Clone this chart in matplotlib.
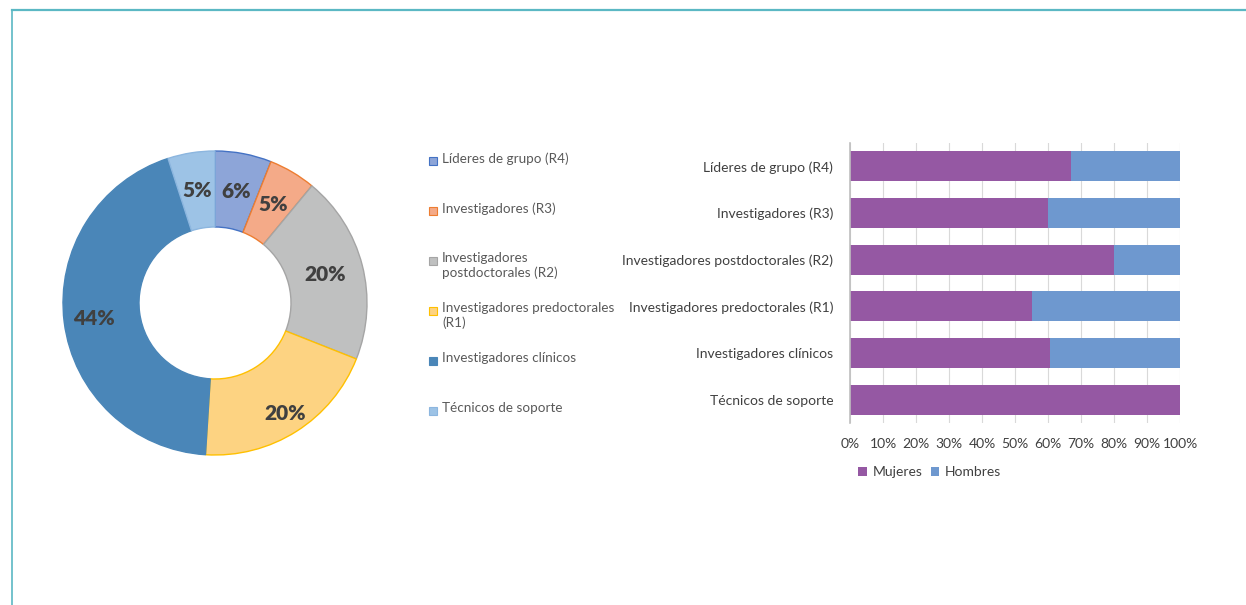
import numpy as np
import matplotlib.pyplot as plt
from matplotlib.patches import Rectangle

plt.rcParams['font.family'] = ['Lato', 'DejaVu Sans']

# datos del anillo
categorias = ['Líderes de grupo (R4)', 'Investigadores (R3)', 'Investigadores postdoctorales (R2)',
              'Investigadores predoctorales (R1)', 'Investigadores clínicos', 'Técnicos de soporte']
leyenda_anillo = ['Líderes de grupo (R4)', 'Investigadores (R3)', 'Investigadores\npostdoctorales (R2)',
                  'Investigadores predoctorales\n(R1)', 'Investigadores clínicos', 'Técnicos de soporte']
porcentajes = [6, 5, 20, 20, 44, 5]

# datos de barras (proporción de mujeres / hombres)
mujeres = [0.67, 0.60, 0.80, 0.55, 0.605, 1.00]
hombres = [0.33, 0.40, 0.20, 0.45, 0.395, 0.00]
ticks_x = [0, 10, 20, 30, 40, 50, 60, 70, 80, 90, 100]

colores = ['#8DA5D8', '#F4AA88', '#BFC0C0', '#FDD382', '#4A86B8', '#9DC3E6']
bordes = ['#4472C4', '#ED7D31', '#A5A5A5', '#FFC000', '#4A86B8', '#8CB6DF']
c_muj = '#9558A3'
c_hom = '#6E98CF'

W, H = 1246, 605
fig = plt.figure(figsize=(W / 100, H / 100), dpi=100)

# marco
fig.add_artist(plt.Line2D([12 / W, 1], [1 - 10 / H, 1 - 10 / H], color='#5BB8C4', lw=1.6))
fig.add_artist(plt.Line2D([12 / W, 12 / W], [0, 1 - 10 / H], color='#5BB8C4', lw=1.2))

# anillo
cx, cy, r = 215, 303, 152
ax1 = fig.add_axes([(cx - r) / W, 1 - (cy + r) / H, 2 * r / W, 2 * r / H])
wedges, _ = ax1.pie(porcentajes, colors=colores, startangle=90, counterclock=False,
                    radius=1, wedgeprops=dict(width=0.5, linewidth=1.0))
for w, b in zip(wedges, bordes):
    w.set_edgecolor(b)
dist = [0.75, 0.75, 0.75, 0.86, 0.8, 0.75]
acum = np.cumsum([0] + porcentajes)
for i, p in enumerate(porcentajes):
    ang = np.radians(90 - (acum[i] + p / 2) * 3.6)
    ax1.text(dist[i] * np.cos(ang), dist[i] * np.sin(ang), f'{p}%', ha='center', va='center',
             fontsize=15, fontweight='heavy', color='#404040')
ax1.set_xlim(-1, 1)
ax1.set_ylim(-1, 1)
ax1.set_aspect('equal')
ax1.axis('off')

# leyenda del anillo
filas = [161, 211, 261, 311, 361, 411]
for lab, col, b, y in zip(leyenda_anillo, colores, bordes, filas):
    fig.add_artist(Rectangle((429 / W, 1 - (y + 4) / H), 8 / W, 8 / H, facecolor=col,
                             edgecolor=b, lw=0.8, transform=fig.transFigure))
    fig.text(442 / W, 1 - (y - 9) / H, lab, ha='left', va='top', fontsize=9.7,
             color='#595959', linespacing=1.25)

# barras apiladas
ax2 = fig.add_axes([850 / W, 1 - 423 / H, 330 / W, 280 / H])
y = np.arange(len(categorias))
ax2.barh(y, mujeres, height=0.64, color=c_muj, label='Mujeres', zorder=2)
ax2.barh(y, hombres, left=mujeres, height=0.64, color=c_hom, label='Hombres', zorder=2)
ax2.set_ylim(len(categorias) - 0.5, -0.5)
ax2.set_xlim(0, 1)
ax2.set_yticks(y)
ax2.set_yticklabels(categorias, fontsize=10, color='#404040')
ax2.set_xticks([t / 100 for t in ticks_x])
ax2.set_xticklabels([f'{t}%' for t in ticks_x], fontsize=10, color='#404040')
ax2.tick_params(length=0)
ax2.tick_params(axis='y', pad=12)
ax2.tick_params(axis='x', pad=11)
ax2.grid(axis='x', color='#D9D9D9', lw=0.8, zorder=0)
for s in ['top', 'right', 'bottom']:
    ax2.spines[s].set_visible(False)
ax2.spines['left'].set_color('#BFBFBF')
ax2.spines['left'].set_linewidth(1.2)

fig.legend(loc='center left', bbox_to_anchor=(846 / W, 1 - 472 / H), ncol=2, frameon=False,
           handlelength=0.6, handleheight=0.6, handletextpad=0.4, columnspacing=0.6,
           prop={'size': 10}, labelcolor='#404040')

fig.savefig('out.png', dpi=100)
